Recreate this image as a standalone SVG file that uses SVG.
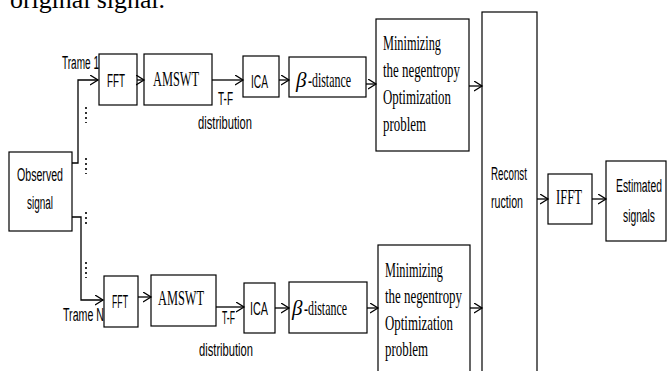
<svg xmlns="http://www.w3.org/2000/svg" width="670" height="371" viewBox="0 0 670 371">
<style>
.box{fill:#fff;stroke:#000;stroke-width:1.2}
.cn{fill:none;stroke:#000;stroke-width:1.3}
.dot{fill:none;stroke:#000;stroke-width:1.6;stroke-dasharray:2,3}
.s{font-family:"Liberation Sans Narrow","Liberation Sans",Arial,sans-serif;font-size:18px;fill:#000}
.t{font-family:"Liberation Serif","Times New Roman",serif;font-size:21px;fill:#000}
.b{font-family:"Liberation Serif","Times New Roman",serif;font-size:21px;font-style:italic;fill:#000}
</style>
<defs>
<marker id="ar" markerUnits="userSpaceOnUse" markerWidth="12" markerHeight="12" refX="8" refY="5" orient="auto">
<path d="M0,0 L8,5 L0,10" fill="none" stroke="#000" stroke-width="1.3"/>
</marker>
</defs>
<text x="10" y="7.5" font-family="Liberation Serif,serif" font-size="26" textLength="155" lengthAdjust="spacingAndGlyphs">original signal.</text>

<g id="observed"><rect class="box" x="9" y="152" width="63" height="79"/>
<text class="s" x="17" y="181" textLength="46" lengthAdjust="spacingAndGlyphs">Observed</text>
<text class="s" x="27" y="209" textLength="26" lengthAdjust="spacingAndGlyphs">signal</text></g>

<g id="fft1"><rect class="box" x="99" y="54" width="38" height="51"/>
<text class="s" x="107" y="87" textLength="18" lengthAdjust="spacingAndGlyphs">FFT</text></g>
<g id="amswt1"><rect class="box" x="144" y="54" width="68" height="51"/>
<text class="t" x="153" y="86" textLength="46" lengthAdjust="spacingAndGlyphs">AMSWT</text></g>
<g id="ica1"><rect class="box" x="243" y="56" width="36" height="41"/>
<text class="s" x="251" y="88" textLength="17" lengthAdjust="spacingAndGlyphs">ICA</text></g>
<g id="beta1"><rect class="box" x="289" y="57" width="77" height="40"/>
<text class="b" x="296" y="87">β</text>
<text class="t" x="308" y="87" textLength="43" lengthAdjust="spacingAndGlyphs">-distance</text></g>
<g id="min1"><rect class="box" x="376" y="19" width="93" height="132"/>
<text class="t" x="383" y="50" textLength="58" lengthAdjust="spacingAndGlyphs">Minimizing</text>
<text class="t" x="383" y="77" textLength="77" lengthAdjust="spacingAndGlyphs">the negentropy</text>
<text class="t" x="383" y="104" textLength="68" lengthAdjust="spacingAndGlyphs">Optimization</text>
<text class="t" x="383" y="131" textLength="43" lengthAdjust="spacingAndGlyphs">problem</text></g>

<g id="fft2"><rect class="box" x="104" y="276" width="34" height="51"/>
<text class="s" x="112" y="308" textLength="16" lengthAdjust="spacingAndGlyphs">FFT</text></g>
<g id="amswt2"><rect class="box" x="151" y="275" width="65" height="51"/>
<text class="t" x="158" y="305" textLength="46" lengthAdjust="spacingAndGlyphs">AMSWT</text></g>
<g id="ica2"><rect class="box" x="244" y="283" width="31" height="50"/>
<text class="s" x="250" y="315" textLength="18" lengthAdjust="spacingAndGlyphs">ICA</text></g>
<g id="beta2"><rect class="box" x="289" y="282" width="78" height="51"/>
<text class="b" x="292" y="315">β</text>
<text class="t" x="304" y="315" textLength="43" lengthAdjust="spacingAndGlyphs">-distance</text></g>
<g id="min2"><rect class="box" x="378" y="245" width="92" height="140"/>
<text class="t" x="385" y="277" textLength="58" lengthAdjust="spacingAndGlyphs">Minimizing</text>
<text class="t" x="385" y="303" textLength="77" lengthAdjust="spacingAndGlyphs">the negentropy</text>
<text class="t" x="385" y="330" textLength="68" lengthAdjust="spacingAndGlyphs">Optimization</text>
<text class="t" x="385" y="356" textLength="43" lengthAdjust="spacingAndGlyphs">problem</text></g>

<g id="recon"><rect class="box" x="482" y="12" width="55" height="380"/>
<text class="s" x="491" y="180" textLength="36" lengthAdjust="spacingAndGlyphs">Reconst</text>
<text class="s" x="491" y="208" textLength="32" lengthAdjust="spacingAndGlyphs">ruction</text></g>
<g id="ifft"><rect class="box" x="548" y="174" width="44" height="50"/>
<text class="t" x="556" y="204" textLength="26" lengthAdjust="spacingAndGlyphs">IFFT</text></g>
<g id="estimated"><rect class="box" x="606" y="161" width="60" height="80"/>
<text class="s" x="616" y="192" textLength="46" lengthAdjust="spacingAndGlyphs">Estimated</text>
<text class="s" x="623" y="222" textLength="32" lengthAdjust="spacingAndGlyphs">signals</text></g>

<g id="connectors">
<polyline class="cn" points="72,163 78,163 78,80 98,80" marker-end="url(#ar)"/>
<polyline class="cn" points="72,217 81,217 81,300 103,300" marker-end="url(#ar)"/>
<line class="cn" x1="137" y1="80" x2="144" y2="80" marker-end="url(#ar)"/>
<line class="cn" x1="212" y1="80" x2="243" y2="80" marker-end="url(#ar)"/>
<line class="cn" x1="279" y1="80" x2="289" y2="80" marker-end="url(#ar)"/>
<line class="cn" x1="366" y1="84" x2="376" y2="84" marker-end="url(#ar)"/>
<line class="cn" x1="469" y1="86" x2="482" y2="86" marker-end="url(#ar)"/>
<line class="cn" x1="138" y1="297" x2="151" y2="297" marker-end="url(#ar)"/>
<line class="cn" x1="216" y1="307" x2="244" y2="307" marker-end="url(#ar)"/>
<line class="cn" x1="275" y1="308" x2="289" y2="308" marker-end="url(#ar)"/>
<line class="cn" x1="367" y1="308" x2="378" y2="308" marker-end="url(#ar)"/>
<line class="cn" x1="470" y1="308" x2="482" y2="308" marker-end="url(#ar)"/>
<line class="cn" x1="537" y1="199" x2="548" y2="199" marker-end="url(#ar)"/>
<line class="cn" x1="592" y1="199" x2="606" y2="199" marker-end="url(#ar)"/>
<line class="dot" x1="86" y1="107" x2="86" y2="123"/>
<line class="dot" x1="86" y1="158" x2="86" y2="174"/>
<line class="dot" x1="86" y1="212" x2="86" y2="227"/>
<line class="dot" x1="86" y1="262" x2="86" y2="278"/>
</g>
<text class="s" x="62" y="69" textLength="37" lengthAdjust="spacingAndGlyphs">Trame 1</text>
<text class="s" x="63" y="321" textLength="41" lengthAdjust="spacingAndGlyphs">Trame N</text>
<text class="s" x="218" y="105" textLength="15" lengthAdjust="spacingAndGlyphs">T-F</text>
<text class="s" x="198" y="129" textLength="54" lengthAdjust="spacingAndGlyphs">distribution</text>
<text class="s" x="222" y="324" textLength="13" lengthAdjust="spacingAndGlyphs">T-F</text>
<text class="s" x="199" y="356" textLength="54" lengthAdjust="spacingAndGlyphs">distribution</text>
</svg>
